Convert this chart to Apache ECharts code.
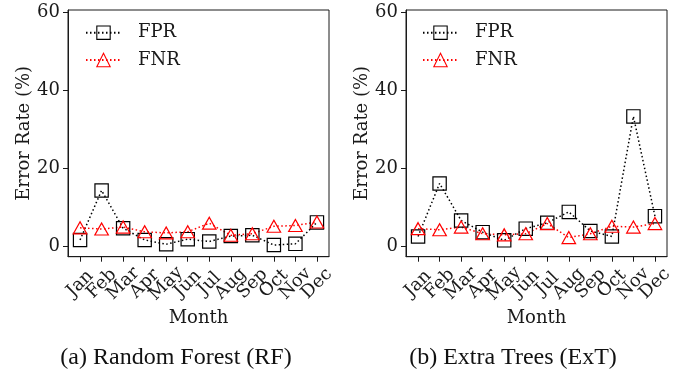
<!DOCTYPE html>
<html><head><meta charset="utf-8">
<script src="https://cdn.jsdelivr.net/npm/echarts@6/dist/echarts.min.js"></script>
<style>html,body{margin:0;padding:0;background:#fff}#c{width:683px;height:375px}</style>
</head><body><div id="c"></div>
<script>
const months = ['Jan','Feb','Mar','Apr','May','Jun','Jul','Aug','Sep','Oct','Nov','Dec'];
const yTicks = [0, 20, 40, 60];
const rfFPR  = [1.7, 14.4, 4.7, 1.7, 0.6, 1.9, 1.3, 2.7, 2.9, 0.4, 0.7, 6.2];
const rfFNR  = [4.8, 4.5, 5.0, 3.8, 3.5, 3.8, 6.0, 2.9, 3.3, 5.2, 5.4, 6.3];
const extFPR = [2.6, 16.2, 6.7, 3.7, 1.6, 4.6, 6.1, 8.9, 4.0, 2.6, 33.4, 7.8];
const extFNR = [4.6, 4.3, 5.0, 3.3, 3.0, 3.3, 5.9, 2.3, 3.3, 5.2, 5.0, 5.9];
const captions = ['(a) Random Forest (RF)', '(b) Extra Trees (ExT)'];

const FONT = 'DejaVu Serif';
const INK = '#1a1a1a';
const pairs = arr => arr.map((v, i) => [i, v]);
const xIdx = months.map((m, i) => i);
const XMIN = -0.56, XMAX = 11.56;
const GW = 261, GL = [68, 406], GT = 10, GH = 246.7;

function xAxis(gi) {
  return {
    type: 'value', gridIndex: gi, min: XMIN, max: XMAX,
    name: 'Month', nameLocation: 'middle', nameGap: 53,
    nameTextStyle: {fontFamily: FONT, fontSize: 18, color: INK},
    axisLine: {show: true, onZero: false, lineStyle: {color: INK, width: 1}},
    axisTick: {show: true, length: 5, customValues: xIdx, lineStyle: {color: INK, width: 1}},
    axisLabel: {show: false},
    splitLine: {show: false}
  };
}
// label-only category axis aligned with the value axis ticks
function labelAxis(gi) {
  return {
    type: 'category', gridIndex: gi, data: months, boundaryGap: true,
    axisLine: {show: false}, axisTick: {show: false}, splitLine: {show: false},
    axisLabel: {interval: 0, rotate: 45, align: 'center', verticalAlign: 'middle', margin: 27,
      fontFamily: FONT, fontSize: 18, color: INK}
  };
}
function yAxis(gi) {
  return {
    type: 'value', gridIndex: gi, min: -2.6, max: 60.7,
    name: 'Error Rate (%)', nameLocation: 'middle', nameGap: 34,
    nameTextStyle: {fontFamily: FONT, fontSize: 18, color: INK},
    axisLine: {show: true, onZero: false, lineStyle: {color: INK, width: 1}},
    axisTick: {show: true, length: 5, customValues: yTicks, lineStyle: {color: INK, width: 1}},
    axisLabel: {customValues: yTicks, margin: 8, showMinLabel: true, showMaxLabel: true,
      fontFamily: FONT, fontSize: 18, color: INK},
    splitLine: {show: false}
  };
}
function series(name, gi, data, color, symbol, size) {
  return {
    name: name, type: 'line', xAxisIndex: gi, yAxisIndex: gi, data: pairs(data),
    symbol: symbol, symbolSize: size, showAllSymbol: true, animation: false,
    lineStyle: {color: color, width: 1.5, type: [1.5, 2.5]},
    itemStyle: {color: 'rgba(0,0,0,0)', borderColor: color, borderWidth: 1.2},
    emphasis: {disabled: true}
  };
}
function legend(left) {
  return {
    orient: 'vertical', left: left, top: 22.7, padding: 0, itemWidth: 35, itemHeight: 16.7, itemGap: 7.3,
    itemStyle: {borderWidth: 1.1},
    textStyle: {fontFamily: FONT, fontSize: 18, color: INK, lineHeight: 20, padding: [0, 0, 0, 12]},
    data: ['FPR', 'FNR'], selectedMode: false
  };
}
const span = XMAX - XMIN, step = GW / span;
const labelGrid = i => ({left: GL[i] + (-XMIN) * step - step / 2, top: GT, width: step * months.length, height: GH, show: false});

const chart = echarts.init(document.getElementById('c'), null, {renderer: 'canvas'});
chart.setOption({
  backgroundColor: '#fff',
  animation: false,
  grid: [
    {left: GL[0], top: GT, width: GW, height: GH, show: true, borderColor: INK, borderWidth: 1, backgroundColor: 'transparent'},
    {left: GL[1], top: GT, width: GW, height: GH, show: true, borderColor: INK, borderWidth: 1, backgroundColor: 'transparent'},
    labelGrid(0), labelGrid(1)
  ],
  xAxis: [xAxis(0), xAxis(1), labelAxis(2), labelAxis(3)],
  yAxis: [yAxis(0), yAxis(1), {type: 'value', gridIndex: 2, show: false}, {type: 'value', gridIndex: 3, show: false}],
  legend: [legend(85), legend(422)],
  series: [
    series('FPR', 0, rfFPR, '#000', 'rect', 13.3),
    series('FNR', 0, rfFNR, '#ff0000', 'triangle', [13.5, 12]),
    series('FPR', 1, extFPR, '#000', 'rect', 13.3),
    series('FNR', 1, extFNR, '#ff0000', 'triangle', [13.5, 12])
  ],
  graphic: [
    {type: 'text', x: 176, y: 358, style: {text: captions[0], fontFamily: 'Liberation Serif', fontSize: 24, fill: '#111', align: 'center', verticalAlign: 'middle'}},
    {type: 'text', x: 513, y: 358, style: {text: captions[1], fontFamily: 'Liberation Serif', fontSize: 24, fill: '#111', align: 'center', verticalAlign: 'middle'}}
  ]
});
</script></body></html>
